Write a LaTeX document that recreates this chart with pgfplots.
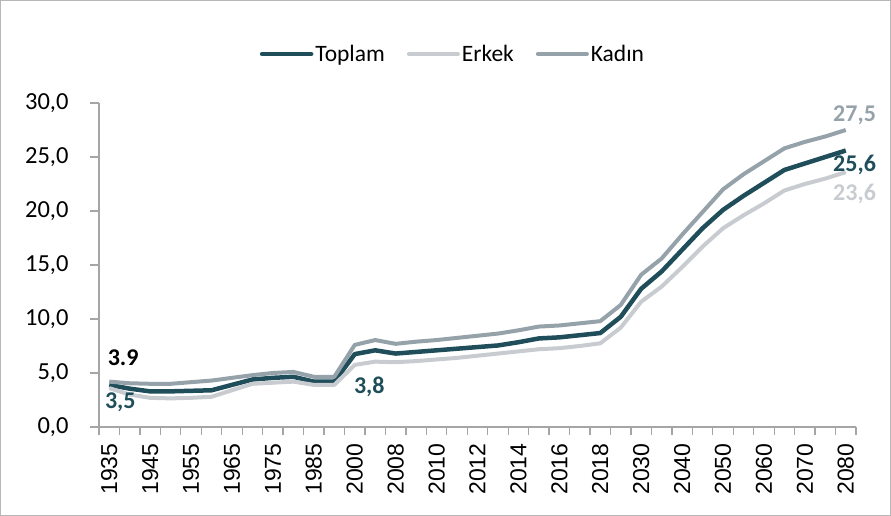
\documentclass[border=0pt]{standalone}
\usepackage{pgfplots}
\pgfplotsset{compat=1.18}
\usepackage{pgfplotstable}
\usepackage{fontspec}
\setmainfont{Carlito}
\newfontfamily\arialfont{Liberation Sans}
\definecolor{toplam}{RGB}{31,78,90}
\definecolor{erkek}{RGB}{200,204,208}
\definecolor{kadin}{RGB}{150,162,170}
\definecolor{axisgray}{RGB}{165,165,165}

\pgfplotstableread{
i T E K
0 3.9 3.6 4.2
1 3.55 3.0 4.05
2 3.3 2.7 4.0
3 3.3 2.65 4.0
4 3.35 2.7 4.15
5 3.4 2.8 4.3
6 3.9 3.4 4.55
7 4.4 4.0 4.8
8 4.55 4.1 5.0
9 4.65 4.2 5.1
10 4.2 3.9 4.65
11 4.2 3.9 4.65
12 6.75 5.75 7.6
13 7.1 6.05 8.05
14 6.8 6.0 7.7
15 6.95 6.1 7.9
16 7.1 6.25 8.05
17 7.25 6.4 8.25
18 7.4 6.6 8.45
19 7.55 6.8 8.65
20 7.85 7.0 8.95
21 8.2 7.2 9.3
22 8.3 7.3 9.4
23 8.5 7.5 9.6
24 8.7 7.75 9.8
25 10.2 9.2 11.3
26 12.8 11.6 14.1
27 14.4 13.0 15.6
28 16.4 14.8 17.8
29 18.4 16.7 19.9
30 20.1 18.4 22.0
31 21.4 19.6 23.4
32 22.6 20.7 24.6
33 23.8 21.9 25.8
34 24.4 22.5 26.4
35 25.0 23.0 26.9
36 25.6 23.6 27.5
}\datatable

\begin{document}
\begin{tikzpicture}
\path[use as bounding box] (-99pt,-89pt) rectangle (792pt,427pt);
\draw[axisgray!80, line width=1pt] (-98.5pt,-88.5pt) rectangle (791.5pt,426.5pt);
\begin{axis}[
  scale only axis, width=757pt, height=324pt,
  xmin=-0.5, xmax=36.5, ymin=0, ymax=30,
  clip=false,
  axis x line*=bottom, axis y line*=left,
  axis line style={axisgray, line width=1.3pt},
  tick align=outside,
  major tick length=9pt,
  minor tick length=8pt,
  ytick={0,5,...,30},
  ytick style={axisgray, line width=1.3pt},
  yticklabel style={font=\fontsize{24.5}{28}\selectfont, text=black, xshift=-18pt},
  /pgf/number format/.cd, use comma, fixed, fixed zerofill, precision=1, assume math mode=true,
  /pgfplots/.cd,
  xtick={0,2,...,36},
  xticklabels={1935,1945,1955,1965,1975,1985,2000,2008,2010,2012,2014,2016,2018,2030,2040,2050,2060,2070,2080},
  major x tick style={draw=none},
  minor xtick={-0.5,0.5,...,36.5},
  minor x tick style={axisgray, line width=1.3pt},
  xticklabel style={rotate=90, anchor=east, font=\arialfont\fontsize{23}{27}\selectfont, text=black, xshift=-4pt},
  legend columns=3,
  legend image code/.code={\draw[#1, line cap=round] (0pt,0pt) -- (49pt,0pt);},
  legend style={draw=none, fill=none, at={(0.4676,1.151)}, anchor=center,
    font=\fontsize{23.5}{26}\selectfont,
    /tikz/every even column/.append style={column sep=20pt}},
]
\addplot[toplam, line width=4.5pt, line join=round] table[x=i, y=T] {\datatable};
\addlegendentry{Toplam}
\addplot[erkek, line width=4pt, line join=round] table[x=i, y=E] {\datatable};
\addlegendentry{Erkek}
\addplot[kadin, line width=4pt, line join=round] table[x=i, y=K] {\datatable};
\addlegendentry{Kadın}
\node[font=\bfseries\fontsize{24}{28}\selectfont, text=black] at (axis cs:0.68,6.44) {3.9};
\node[font=\bfseries\fontsize{24}{28}\selectfont, text=toplam] at (axis cs:0.54,2.27) {3,5};
\node[font=\bfseries\fontsize{24}{28}\selectfont, text=toplam] at (axis cs:12.71,3.70) {3,8};
\node[font=\bfseries\fontsize{24}{28}\selectfont, text=kadin] at (axis cs:36.43,28.84) {27,5};
\node[font=\bfseries\fontsize{24}{28}\selectfont, text=toplam] at (axis cs:36.43,24.31) {25,6};
\node[font=\bfseries\fontsize{24}{28}\selectfont, text=erkek] at (axis cs:36.43,21.57) {23,6};
\end{axis}
\end{tikzpicture}
\end{document}
